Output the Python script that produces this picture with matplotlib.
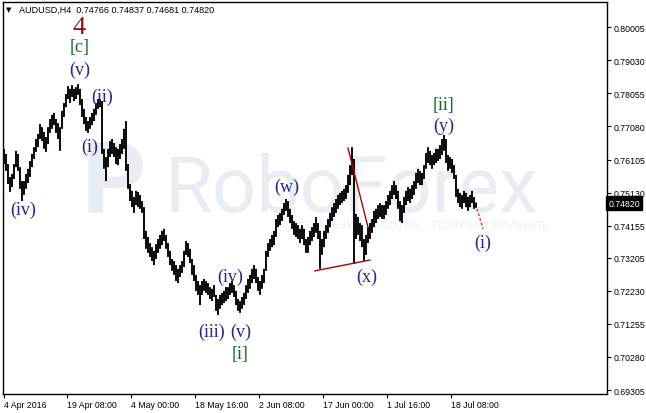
import matplotlib
matplotlib.use("Agg")
import matplotlib.pyplot as plt
import matplotlib.transforms as mtransforms
import numpy as np

# H4 bar highs / lows (one entry per ~2 bars)
highs = [
    0.7642, 0.7627, 0.7597, 0.7559, 0.7568, 0.7597, 0.7636, 0.7627, 0.7588, 0.7547,
    0.7547, 0.7568, 0.7583, 0.7606, 0.7627, 0.7647, 0.7671, 0.7686, 0.7715, 0.7706,
    0.7692, 0.7677, 0.7706, 0.7730, 0.7742, 0.7748, 0.7730, 0.7718, 0.7706, 0.7754,
    0.7777, 0.7804, 0.7827, 0.7819, 0.7830, 0.7819, 0.7824, 0.7833, 0.7819, 0.7789,
    0.7760, 0.7736, 0.7724, 0.7736, 0.7748, 0.7760, 0.7777, 0.7789, 0.7789, 0.7783,
    0.7642, 0.7618, 0.7642, 0.7665, 0.7671, 0.7659, 0.7647, 0.7642, 0.7656, 0.7671,
    0.7701, 0.7724, 0.7597, 0.7538, 0.7518, 0.7500, 0.7518, 0.7515, 0.7506, 0.7488,
    0.7470, 0.7400, 0.7382, 0.7364, 0.7352, 0.7341, 0.7361, 0.7376, 0.7388, 0.7400,
    0.7406, 0.7388, 0.7364, 0.7341, 0.7317, 0.7311, 0.7299, 0.7288, 0.7299, 0.7311,
    0.7341, 0.7370, 0.7364, 0.7347, 0.7317, 0.7299, 0.7270, 0.7252, 0.7240, 0.7252,
    0.7258, 0.7252, 0.7246, 0.7234, 0.7229, 0.7240, 0.7211, 0.7199, 0.7211, 0.7217,
    0.7223, 0.7234, 0.7234, 0.7246, 0.7252, 0.7240, 0.7223, 0.7199, 0.7193, 0.7205,
    0.7217, 0.7240, 0.7258, 0.7270, 0.7288, 0.7299, 0.7288, 0.7264, 0.7252, 0.7270,
    0.7288, 0.7341, 0.7364, 0.7376, 0.7388, 0.7400, 0.7435, 0.7447, 0.7453, 0.7465,
    0.7482, 0.7494, 0.7488, 0.7465, 0.7447, 0.7429, 0.7423, 0.7417, 0.7406, 0.7417,
    0.7406, 0.7376, 0.7382, 0.7400, 0.7411, 0.7423, 0.7441, 0.7423, 0.7400, 0.7376,
    0.7400, 0.7417, 0.7435, 0.7453, 0.7470, 0.7482, 0.7494, 0.7506, 0.7512, 0.7518,
    0.7524, 0.7535, 0.7565, 0.7594, 0.7647, 0.7612, 0.7450, 0.7441, 0.7423, 0.7417,
    0.7376, 0.7388, 0.7411, 0.7423, 0.7435, 0.7459, 0.7465, 0.7476, 0.7482, 0.7476,
    0.7476, 0.7488, 0.7506, 0.7518, 0.7535, 0.7547, 0.7535, 0.7518, 0.7488, 0.7476,
    0.7500, 0.7518, 0.7529, 0.7524, 0.7535, 0.7547, 0.7571, 0.7583, 0.7577, 0.7571,
    0.7594, 0.7630, 0.7647, 0.7636, 0.7624, 0.7630, 0.7642, 0.7642, 0.7653, 0.7671,
    0.7683, 0.7671, 0.7624, 0.7618, 0.7612, 0.7594, 0.7565, 0.7524, 0.7512, 0.7506,
    0.7518, 0.7512, 0.7500, 0.7506, 0.7518, 0.7500, 0.74837,
]
lows = [
    0.7597, 0.7577, 0.7538, 0.7515, 0.7529, 0.7553, 0.7588, 0.7577, 0.7524, 0.7488,
    0.7506, 0.7524, 0.7541, 0.7559, 0.7588, 0.7612, 0.7633, 0.7647, 0.7671, 0.7665,
    0.7642, 0.7633, 0.7656, 0.7689, 0.7701, 0.7712, 0.7689, 0.7671, 0.7636, 0.7701,
    0.7736, 0.7765, 0.7789, 0.7777, 0.7795, 0.7783, 0.7789, 0.7801, 0.7771, 0.7736,
    0.7715, 0.7695, 0.7689, 0.7701, 0.7712, 0.7724, 0.7742, 0.7760, 0.7765, 0.7627,
    0.7583, 0.7547, 0.7588, 0.7618, 0.7627, 0.7618, 0.7597, 0.7594, 0.7612, 0.7627,
    0.7642, 0.7577, 0.7524, 0.7488, 0.7470, 0.7453, 0.7476, 0.7470, 0.7465, 0.7453,
    0.7376, 0.7347, 0.7335, 0.7323, 0.7311, 0.7299, 0.7317, 0.7335, 0.7347, 0.7358,
    0.7370, 0.7347, 0.7323, 0.7299, 0.7282, 0.7270, 0.7252, 0.7246, 0.7264, 0.7276,
    0.7293, 0.7329, 0.7323, 0.7305, 0.7270, 0.7252, 0.7223, 0.7211, 0.7181, 0.7211,
    0.7223, 0.7217, 0.7211, 0.7199, 0.7193, 0.7205, 0.7164, 0.7152, 0.7170, 0.7181,
    0.7187, 0.7193, 0.7199, 0.7211, 0.7217, 0.7205, 0.7181, 0.7164, 0.7158, 0.7170,
    0.7181, 0.7199, 0.7217, 0.7229, 0.7246, 0.7258, 0.7246, 0.7223, 0.7211, 0.7229,
    0.7246, 0.7282, 0.7323, 0.7341, 0.7352, 0.7358, 0.7382, 0.7411, 0.7417, 0.7429,
    0.7447, 0.7459, 0.7441, 0.7423, 0.7406, 0.7388, 0.7382, 0.7376, 0.7364, 0.7376,
    0.7358, 0.7335, 0.7335, 0.7358, 0.7370, 0.7382, 0.7394, 0.7376, 0.7288, 0.7329,
    0.7352, 0.7376, 0.7394, 0.7411, 0.7429, 0.7441, 0.7453, 0.7465, 0.7476, 0.7482,
    0.7488, 0.7494, 0.7512, 0.7535, 0.7565, 0.7302, 0.7376, 0.7388, 0.7370, 0.7352,
    0.7311, 0.7329, 0.7364, 0.7376, 0.7394, 0.7411, 0.7423, 0.7435, 0.7441, 0.7435,
    0.7435, 0.7447, 0.7465, 0.7476, 0.7494, 0.7506, 0.7494, 0.7465, 0.7429, 0.7423,
    0.7453, 0.7476, 0.7488, 0.7482, 0.7494, 0.7506, 0.7524, 0.7541, 0.7535, 0.7535,
    0.7553, 0.7583, 0.7600, 0.7594, 0.7583, 0.7594, 0.7600, 0.7606, 0.7612, 0.7624,
    0.7636, 0.7600, 0.7577, 0.7583, 0.7571, 0.7553, 0.7500, 0.7482, 0.7470, 0.7465,
    0.7482, 0.7470, 0.7459, 0.7470, 0.7482, 0.7465, 0.74681,
]

date_pos = [0, 31.5, 63.5, 95.5, 127.5, 159.5, 191.5, 223.5]
date_labels = ["4 Apr 2016", "19 Apr 08:00", "4 May 00:00", "18 May 16:00",
               "2 Jun 08:00", "17 Jun 00:00", "1 Jul 16:00", "18 Jul 08:00"]
price_ticks = [0.80005, 0.79030, 0.78055, 0.77080, 0.76105, 0.75130,
               0.74155, 0.73205, 0.72230, 0.71255, 0.70280, 0.69305]
last_price = 0.74820
header = "AUDUSD,H4  0.74766 0.74837 0.74681 0.74820"

# wave labels: (text, x, price, kind)
wave_labels = [
    ("4", 37.5, 0.8001, "big"),
    ("[c]", 38, 0.7945, "green"),
    ("(v)", 38, 0.7877, "blue"),
    ("(ii)", 49, 0.7798, "blue"),
    ("(i)", 43, 0.7650, "blue"),
    ("(iv)", 9.5, 0.7464, "blue"),
    ("(iii)", 104, 0.7105, "blue"),
    ("(v)", 118.5, 0.7105, "blue"),
    ("[i]", 118, 0.7037, "green"),
    ("(iv)", 113, 0.7267, "blue"),
    ("(w)", 141.5, 0.7532, "blue"),
    ("(x)", 181.5, 0.7267, "blue"),
    ("[ii]", 219.5, 0.7774, "green"),
    ("(y)", 220, 0.7712, "blue"),
    ("(i)", 239.5, 0.7367, "blue"),
]

# triangle lines and forecast
tri_upper_x = [172, 182]
tri_upper_y = [0.7644, 0.7411]
tri_lower_x = [155.5, 183]
tri_lower_y = [0.7282, 0.7314]
fc_x = [236.5, 239.5]
fc_y = [0.7465, 0.7406]

fig = plt.figure(figsize=(6.46, 4.14), dpi=100)
ax = fig.add_axes([3 / 646, 1 - 395 / 414, 604 / 646, 392 / 414])

# watermark
wm = "#e9edf2"
ax.text(55, 0.7456, "P", fontsize=72, fontweight="bold", color=wm,
        ha="center", va="baseline", family="Roboto", zorder=0)
ax.text(80.5, 0.7459, "RoboForex", fontsize=56, color=wm, ha="left",
        va="baseline", family="Roboto", zorder=0)
ax.text(143, 0.7418, "ИСПОЛЬЗУЙ РОБОТОВ – ПОЛУЧАЙ ПРИБЫЛЬ", fontsize=8,
        color="#edf0f4", ha="left", va="center", family="DejaVu Sans", zorder=0)

x = np.arange(len(highs))
ax.vlines(x, lows, highs, color="black", lw=1.35, zorder=3, snap=False)

ax.plot(tri_upper_x, tri_upper_y, color="#9b0a0a", lw=1, zorder=4)
ax.plot(tri_lower_x, tri_lower_y, color="#9b0a0a", lw=1, zorder=4)
ax.plot(fc_x, fc_y, color="#e8305a", lw=1, ls=(0, (2, 1.5)), zorder=4)

styles = {
    "blue": dict(color="#26268c", fontsize=13),
    "green": dict(color="#0b6e1e", fontsize=13),
    "big": dict(color="#8e1414", fontsize=19),
}
for txt, lx, ly, kind in wave_labels:
    ax.text(lx, ly, txt, ha="center", va="center", family="Liberation Serif",
            zorder=5, **styles[kind])

ax.set_xlim(-0.5, 301.5)
ax.set_ylim(0.69187, 0.80752)

ax.yaxis.tick_right()
ax.set_yticks(price_ticks)
ax.set_yticklabels([f"{p:.5f}" for p in price_ticks], fontsize=6.3,
                   family="Liberation Sans")
ax.set_xticks(date_pos)
ax.set_xticklabels(date_labels, fontsize=6.3, family="Liberation Sans", ha="left")
ax.tick_params(axis="both", direction="out", length=3, width=0.8, pad=1.5,
               colors="black")
for s in ax.spines.values():
    s.set_linewidth(1)

trans = mtransforms.blended_transform_factory(ax.transAxes, ax.transData)
ax.text(1.002, last_price, f"{last_price:.5f}", transform=trans, fontsize=6.3,
        family="Liberation Sans", color="white", ha="left", va="center",
        bbox=dict(boxstyle="square,pad=0.25", fc="black", ec="black"), zorder=6)

fig.text(9 / 646, 1 - 10 / 414, "▼", fontsize=5, ha="center", va="center",
         family="DejaVu Sans")
fig.text(19 / 646, 1 - 10.5 / 414, header, fontsize=6.5, ha="left", va="center",
         family="Liberation Sans")

fig.savefig("out.png", dpi=100)
